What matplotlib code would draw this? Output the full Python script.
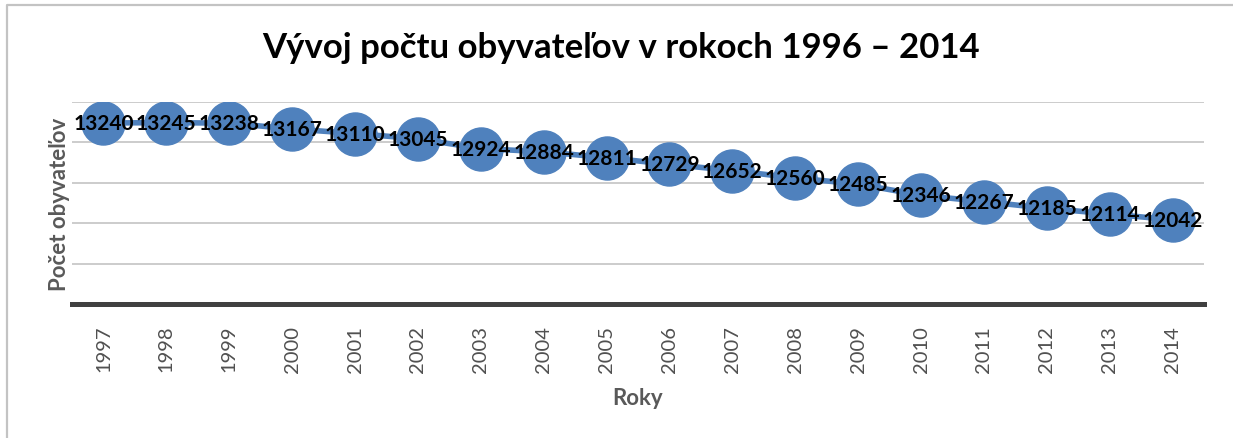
import matplotlib.pyplot as plt
from matplotlib.lines import Line2D

# data
roky = ['1997', '1998', '1999', '2000', '2001', '2002', '2003', '2004', '2005',
        '2006', '2007', '2008', '2009', '2010', '2011', '2012', '2013', '2014']
obyvatelia = [13240, 13245, 13238, 13167, 13110, 13045, 12924, 12884, 12811,
              12729, 12652, 12560, 12485, 12346, 12267, 12185, 12114, 12042]

modra = '#4F81BD'
seda = '#595959'

plt.rcParams['font.family'] = ['Lato', 'DejaVu Sans']

W, H = 1233, 439
fig = plt.figure(figsize=(W / 100, H / 100), dpi=100)

# ramik grafu (vidno len hornu a lavu stranu)
fig.lines.append(Line2D([7 / W, 7 / W, 1], [0, 1 - 6 / H, 1 - 6 / H], transform=fig.transFigure,
                        color='#c3c3c3', linewidth=1.6))

ax = fig.add_axes([72 / W, (H - 305) / H, (1204 - 72) / W, 202 / H])
x = list(range(len(roky)))
ax.plot(x, obyvatelia, color=modra, linewidth=4, marker='o', markersize=31,
        markerfacecolor=modra, markeredgecolor=modra, zorder=3)
for xi, v in zip(x, obyvatelia):
    ax.text(xi, v, str(v), ha='center', va='center', fontsize=15,
            fontweight='bold', color='black', zorder=4)

ax.set_xlim(-0.5, len(roky) - 0.5)
ax.set_ylim(11000, 13500)
ax.set_yticks(range(11000, 13501, 500))
ax.set_yticklabels([])
ax.tick_params(axis='y', length=0)
ax.grid(axis='y', color='#c8c8c8', linewidth=1.3)
ax.set_axisbelow(True)

ax.set_xticks(x)
ax.set_xticklabels(roky, rotation=90, fontsize=14.5, color='#505050')
ax.tick_params(axis='x', length=0, pad=15)

for s in ['top', 'right', 'left']:
    ax.spines[s].set_visible(False)
ax.spines['bottom'].set_color('#404040')
ax.spines['bottom'].set_linewidth(3.6)

ax.set_xlabel('Roky', fontsize=16, fontweight='bold', color=seda, labelpad=11)
ax.set_ylabel('Počet obyvateľov', fontsize=16, fontweight='bold', color=seda, labelpad=-2)

fig.text(621 / W, 1 - 48 / H, 'Vývoj počtu obyvateľov v rokoch 1996 – 2014',
         ha='center', va='center', fontsize=25, fontweight='bold', color='black')

fig.savefig('out.png', dpi=100, facecolor='white')
